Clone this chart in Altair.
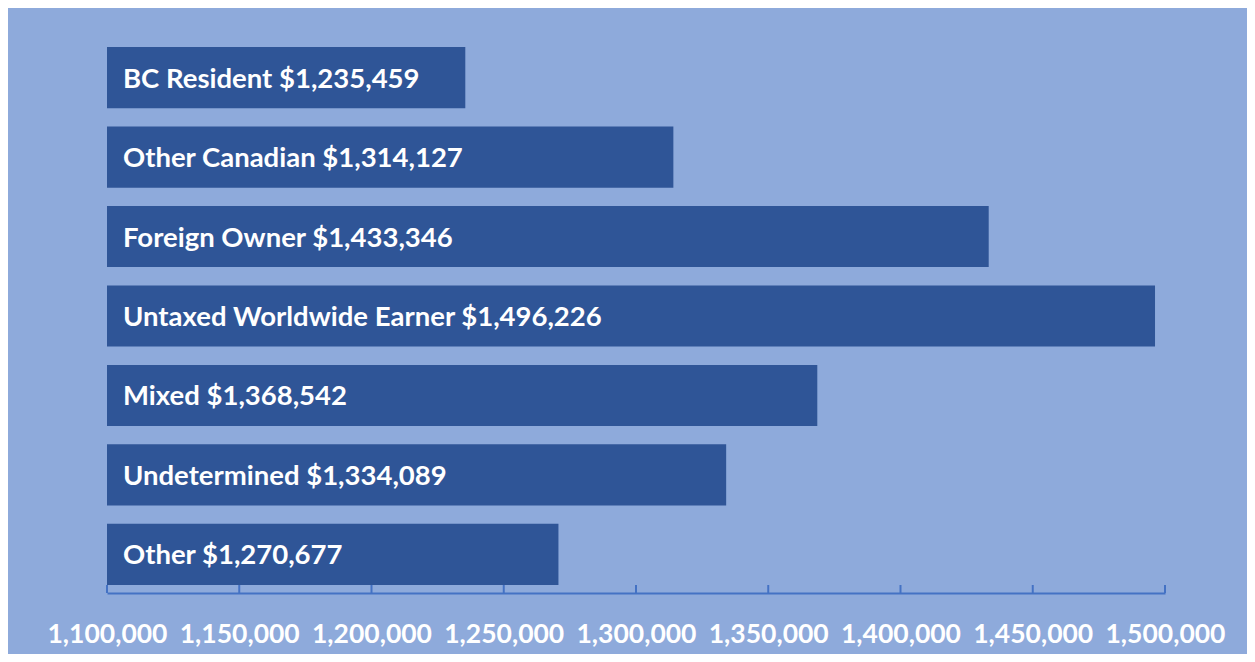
import altair as alt
import pandas as pd

categories = ["BC Resident", "Other Canadian", "Foreign Owner", "Untaxed Worldwide Earner",
              "Mixed", "Undetermined", "Other"]
values = [1235459, 1314127, 1433346, 1496226, 1368542, 1334089, 1270677]
tick_values = [1100000, 1150000, 1200000, 1250000, 1300000, 1350000, 1400000, 1450000, 1500000]

df = pd.DataFrame({"category": categories, "value": values})
df["label"] = [f"{c} ${v:,}" for c, v in zip(categories, values)]
ticks = pd.DataFrame({"t": tick_values})

W, H = 1058, 554
FONT = "Lato"

xscale = alt.Scale(domain=[1100000, 1500000], nice=False, zero=False)
yscale = alt.Scale(domain=categories, paddingInner=0.23, paddingOuter=0.1)

bars = alt.Chart(df).mark_bar(color="#2f5597").encode(
    x=alt.X("value:Q", scale=xscale,
            axis=alt.Axis(values=tick_values, format=",d", title=None, grid=False,
                          ticks=False, domainColor="#4472c4", domainWidth=2,
                          labelColor="white", labelFont=FONT, labelFontWeight="bold",
                          labelFontSize=26.5, labelPadding=28, labelFlush=False)),
    x2=alt.X2(datum=1100000),
    y=alt.Y("category:N", scale=yscale, axis=None, sort=categories),
)

text = alt.Chart(df).mark_text(color="white", font=FONT, fontWeight="bold", fontSize=27.5,
                               align="left", baseline="middle", dy=2).encode(
    x=alt.value(16),
    y=alt.Y("category:N", scale=yscale, axis=None, sort=categories),
    text="label:N",
)

tick_marks = alt.Chart(ticks).mark_rule(color="#4472c4", strokeWidth=2).encode(
    x=alt.X("t:Q", scale=xscale),
    y=alt.value(H - 8),
    y2=alt.value(H),
)

chart = alt.layer(bars, text, tick_marks).properties(
    width=W, height=H,
    background="#8eaadb",
    autosize=alt.AutoSizeParams(type="none"),
    padding={"left": 99, "top": 31, "right": 82, "bottom": 61},
).configure_view(stroke=None)

chart.save("out.html", embed_options={"renderer": "svg", "actions": False})
